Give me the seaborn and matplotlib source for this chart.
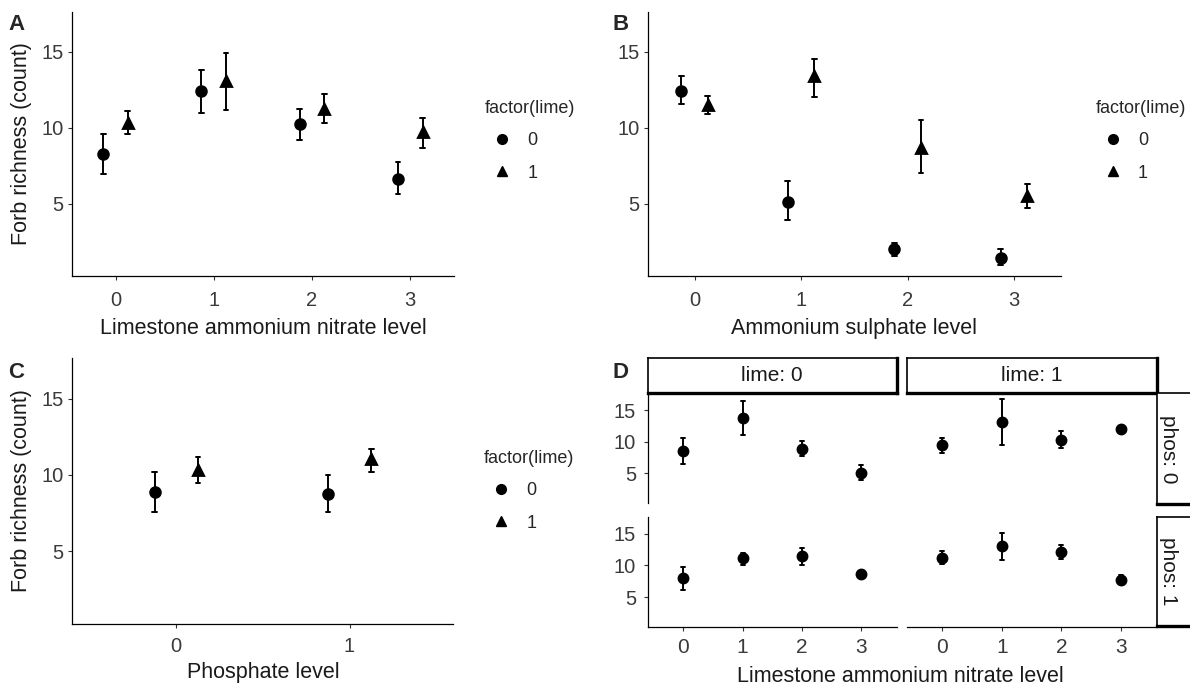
import numpy as np
import pandas as pd
import matplotlib
matplotlib.use("Agg")
import matplotlib.pyplot as plt
from matplotlib.lines import Line2D
import seaborn as sns

# ---------------- data ----------------
lime_levels = [0, 1]
lan_levels = ["0", "1", "2", "3"]        # limestone ammonium nitrate level
as_levels = ["0", "1", "2", "3"]         # ammonium sulphate level
phos_levels = ["0", "1"]                 # phosphate level

# Panel A: mean, lower, upper  (lime 0 / lime 1)
a_mean0 = [8.3, 12.45, 10.25, 6.65]
a_lo0 = [6.95, 11.0, 9.2, 5.65]
a_hi0 = [9.6, 13.8, 11.25, 7.75]
a_mean1 = [10.35, 13.1, 11.25, 9.7]
a_lo1 = [9.6, 11.2, 10.35, 8.65]
a_hi1 = [11.1, 14.95, 12.2, 10.65]

# Panel B
b_mean0 = [12.45, 5.15, 2.0, 1.45]
b_lo0 = [11.6, 3.95, 1.55, 1.0]
b_hi0 = [13.4, 6.5, 2.4, 2.05]
b_mean1 = [11.5, 13.4, 8.7, 5.5]
b_lo1 = [10.9, 12.05, 7.0, 4.7]
b_hi1 = [12.1, 14.55, 10.55, 6.3]

# Panel C
c_mean0 = [8.87, 8.78]
c_lo0 = [7.59, 7.59]
c_hi0 = [10.2, 10.02]
c_mean1 = [10.33, 11.02]
c_lo1 = [9.46, 10.2]
c_hi1 = [11.15, 11.72]

# Panel D (facets lime x phos)
d_p0_l0_mean = [8.45, 13.8, 8.9, 5.1]
d_p0_l0_lo = [6.5, 11.0, 7.75, 4.0]
d_p0_l0_hi = [10.6, 16.4, 10.05, 6.3]
d_p0_l1_mean = [9.4, 13.15, 10.3, 12.0]
d_p0_l1_lo = [8.2, 9.4, 8.95, 11.5]
d_p0_l1_hi = [10.6, 16.8, 11.7, 12.45]
d_p1_l0_mean = [7.95, 11.1, 11.4, 8.6]
d_p1_l0_lo = [6.1, 10.0, 10.05, 8.1]
d_p1_l0_hi = [9.8, 12.0, 12.7, 9.1]
d_p1_l1_mean = [11.1, 13.0, 12.05, 7.7]
d_p1_l1_lo = [10.2, 10.9, 10.95, 7.0]
d_p1_l1_hi = [12.3, 15.1, 13.2, 8.45]

y_ticks = [5, 10, 15]
y_label = "Forb richness (count)"
legend_title = "factor(lime)"

# ---------------- style ----------------
sns.set_theme(style="ticks")
plt.rcParams["font.family"] = ["Liberation Sans", "DejaVu Sans"]
plt.rcParams["axes.facecolor"] = "white"
plt.rcParams["figure.facecolor"] = "white"

W, H = 1190, 688
fig = plt.figure(figsize=(W / 100, H / 100), dpi=100)
YLIM = (0.25, 17.65)
TICK_C = "#333333"
LAB_C = "#3a3a3a"


def px_axes(l, t, r, b):
    return fig.add_axes([l / W, 1 - b / H, (r - l) / W, (b - t) / H])


def long_df(levels, groups):
    rows = []
    for hue, (m, lo, hi) in groups.items():
        for lev, mm, ll, hh in zip(levels, m, lo, hi):
            for v in (ll, mm, hh):
                rows.append({"level": lev, "lime": hue, "richness": v})
    return pd.DataFrame(rows)


def span(v):
    return (np.min(v), np.max(v))


def draw_points(ax, df, levels, cap, hue=True, ms=7):
    kw = dict(data=df, x="level", y="richness", order=levels,
              estimator="median", errorbar=span, linestyles="none",
              capsize=cap, err_kws={"linewidth": 1.4}, markersize=ms,
              legend=False, ax=ax)
    if hue:
        sns.pointplot(hue="lime", hue_order=lime_levels, dodge=0.25,
                      markers=["o", "^"], palette=["black", "black"], **kw)
    else:
        sns.pointplot(color="black", markers="o", **kw)


def style_axes(ax, xlim, xpad, ypad, show_x=True, show_y=True,
               xfs=14.5, yfs=14.5):
    for s in ["top", "right"]:
        ax.spines[s].set_visible(False)
    ax.spines["left"].set_visible(show_y)
    ax.spines["bottom"].set_visible(show_x)
    for s in ["left", "bottom"]:
        ax.spines[s].set_linewidth(0.9)
        ax.spines[s].set_color("black")
    ax.set_xlim(*xlim)
    ax.set_ylim(*YLIM)
    ax.set_yticks(y_ticks)
    ax.grid(False)
    ax.tick_params(axis="x", length=2.9, width=0.8, pad=xpad, labelsize=xfs,
                   color=TICK_C, labelcolor=LAB_C,
                   bottom=show_x, labelbottom=show_x)
    ax.tick_params(axis="y", length=2.9, width=0.8, pad=ypad, labelsize=yfs,
                   color=TICK_C, labelcolor=LAB_C,
                   left=show_y, labelleft=show_y)
    ax.set_xlabel("")
    ax.set_ylabel("")


def add_legend(x, y):
    handles = [Line2D([], [], marker=m, color="black", linestyle="none",
                      markersize=ms)
               for m, ms in zip(["o", "^"], [7, 7.5])]
    fig.legend(handles, [str(v) for v in lime_levels], title=legend_title,
               loc="upper left", bbox_to_anchor=(x / W, 1 - y / H),
               frameon=False, fontsize=13, title_fontsize=13,
               handlelength=1.9, handletextpad=0.45, labelspacing=0.85,
               borderpad=0, borderaxespad=0, alignment="left")


def set_xlabel(ax, text, ycoord):
    ax.set_xlabel(text, fontsize=15.5, color="#1a1a1a")
    ax.xaxis.label.set_va("center")
    ax.xaxis.set_label_coords(0.5, ycoord)


def set_ylabel(ax, xcoord):
    ax.set_ylabel(y_label, fontsize=15.5, color="#1a1a1a")
    ax.yaxis.label.set_va("center")
    ax.yaxis.set_label_coords(xcoord, 0.5)


# ---------------- Panel A ----------------
axA = px_axes(72.3, 11.7, 453.5, 276)
dfA = long_df(lan_levels, {0: (a_mean0, a_lo0, a_hi0), 1: (a_mean1, a_lo1, a_hi1)})
draw_points(axA, dfA, lan_levels, cap=0.048)
style_axes(axA, (-0.44, 3.44), xpad=8.0, ypad=3.6)
set_xlabel(axA, "Limestone ammonium nitrate level", -0.2005)
set_ylabel(axA, -0.1327)
add_legend(485, 100)
fig.text(8 / W, 1 - 25 / H, "A", fontsize=16, fontweight="bold", va="center", ha="left")

# ---------------- Panel B ----------------
axB = px_axes(647.7, 11.7, 1061, 276)
dfB = long_df(as_levels, {0: (b_mean0, b_lo0, b_hi0), 1: (b_mean1, b_lo1, b_hi1)})
draw_points(axB, dfB, as_levels, cap=0.045)
style_axes(axB, (-0.44, 3.44), xpad=8.0, ypad=2.8)
set_xlabel(axB, "Ammonium sulphate level", -0.2005)
add_legend(1095.6, 100)
fig.text(613 / W, 1 - 25 / H, "B", fontsize=16, fontweight="bold", va="center", ha="left")

# ---------------- Panel C ----------------
axC = px_axes(72.3, 358, 453.5, 624)
dfC = long_df(phos_levels, {0: (c_mean0, c_lo0, c_hi0), 1: (c_mean1, c_lo1, c_hi1)})
draw_points(axC, dfC, phos_levels, cap=0.027)
style_axes(axC, (-0.6, 1.6), xpad=6.3, ypad=3.6)
set_xlabel(axC, "Phosphate level", -0.184)
set_ylabel(axC, -0.1327)
add_legend(484, 450)
fig.text(8 / W, 1 - 372 / H, "C", fontsize=16, fontweight="bold", va="center", ha="left")

# ---------------- Panel D (facet grid lime x phos) ----------------
d_data = {
    ("0", 0): (d_p0_l0_mean, d_p0_l0_lo, d_p0_l0_hi),
    ("0", 1): (d_p0_l1_mean, d_p0_l1_lo, d_p0_l1_hi),
    ("1", 0): (d_p1_l0_mean, d_p1_l0_lo, d_p1_l0_hi),
    ("1", 1): (d_p1_l1_mean, d_p1_l1_lo, d_p1_l1_hi),
}
col_x = {0: (647.7, 896.7), 1: (906.7, 1156.7)}
row_y = {"0": (393.3, 503.3), "1": (516.7, 627.3)}

for (phos, lime), (m, lo, hi) in d_data.items():
    l, r = col_x[lime]
    t, b = row_y[phos]
    ax = px_axes(l, t, r, b)
    dfD = long_df(lan_levels, {lime: (m, lo, hi)})
    draw_points(ax, dfD, lan_levels, cap=0.067, hue=False, ms=6.5)
    style_axes(ax, (-0.6, 3.6), xpad=4.8, ypad=5.5,
               show_x=(phos == "1"), show_y=(lime == 0), xfs=15, yfs=14.5)


def strip(l, t, r, b, text, rot=0, tx=0.5, thick=("right", "bottom"), hide=()):
    sa = px_axes(l, t, r, b)
    sa.set_xticks([])
    sa.set_yticks([])
    sa.set_xlim(0, 1)
    sa.set_ylim(0, 1)
    sa.set_facecolor("white")
    for name, s in sa.spines.items():
        s.set_visible(name not in hide)
        s.set_color("black")
        s.set_linewidth(2.4 if name in thick else 1.2)
    sa.text(tx, 0.5, text, rotation=rot, ha="center", va="center",
            fontsize=15, color="#1a1a1a", transform=sa.transAxes)
    return sa


strip(647.7, 358.3, 896.7, 393.3, "lime: 0")
strip(906.7, 358.3, 1156.7, 393.3, "lime: 1")
strip(1156.7, 393.3, 1196, 504.3, "phos: 0", rot=-90, tx=0.29, hide=("right",))
strip(1156.7, 516.7, 1196, 626.0, "phos: 1", rot=-90, tx=0.29, hide=("right",))

fig.text(900 / W, 1 - 677 / H, "Limestone ammonium nitrate level",
         fontsize=15.5, color="#1a1a1a", ha="center", va="center")
fig.text(613 / W, 1 - 372 / H, "D", fontsize=16, fontweight="bold", va="center", ha="left")

fig.savefig("out.png", dpi=100)
